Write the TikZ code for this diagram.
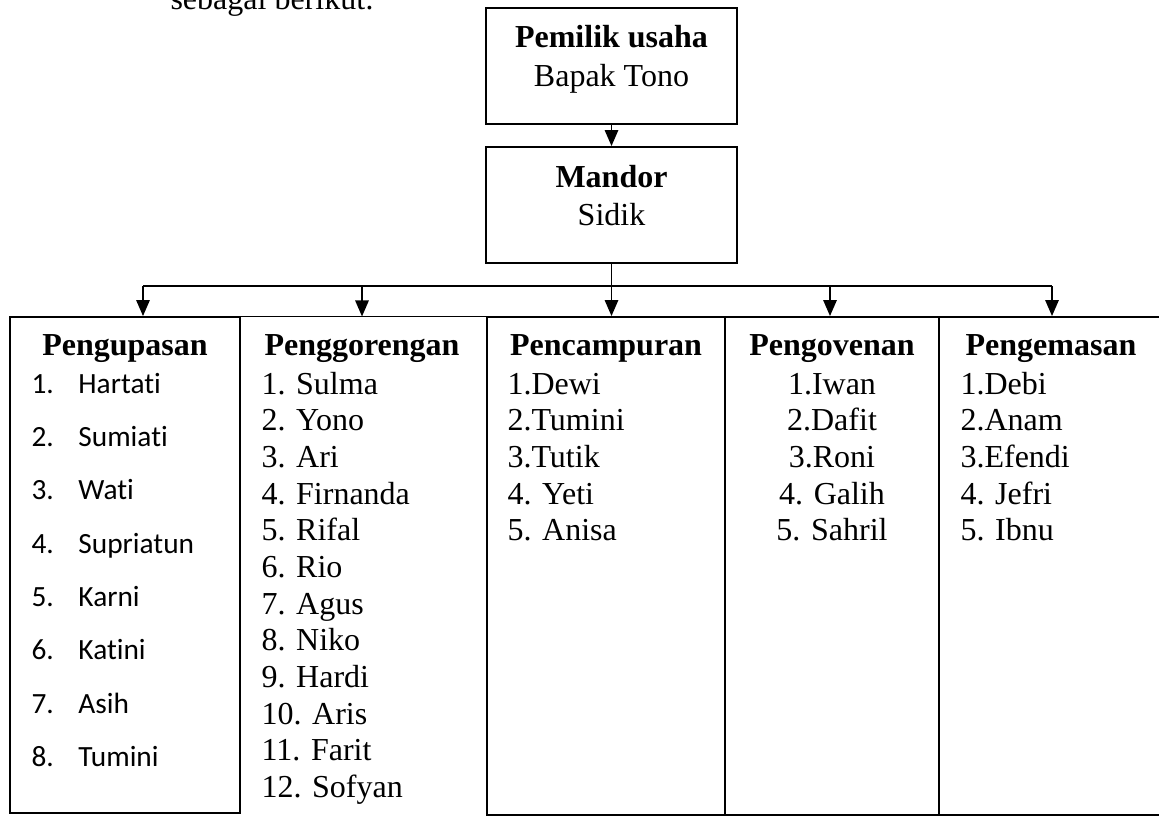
\documentclass[tikz,border=0pt]{standalone}
\usepackage{fontspec}
\setmainfont{Liberation Serif}
\newfontfamily\calibri[RawFeature={-liga;-dlig;-clig}]{Carlito}
\usetikzlibrary{arrows.meta}
\tikzset{
  kotak/.style={draw, line width=0.7pt, inner sep=0pt},
  garis/.style={line width=0.7pt},
  panah/.style={line width=0.7pt, -{Triangle[length=6pt, width=5pt]}},
  judul/.style={inner sep=0pt, anchor=base, font=\bfseries},
  teks/.style={inner sep=0pt, anchor=base},
  daftar/.style={inner sep=0pt, anchor=base west}
}
\begin{document}
\fontsize{12}{13.76}\selectfont
\begin{tikzpicture}[x=0.375pt, y=-0.375pt]
            \useasboundingbox (0,0) rectangle (1159,819);
            \node[daftar] (pengantar) at (170,9) {sebagai berikut:};
            % pimpinan
            \node[kotak, minimum width=94.1pt, minimum height=43.5pt] (pemilik) at (611.5,66) {};
            \node[judul] (tpemilik) at (611.5,47) {Pemilik usaha};
            \node[teks] (npemilik) at (611.5,86) {Bapak Tono};
            \node[kotak, minimum width=94.1pt, minimum height=43.5pt] (mandor) at (611.5,205) {};
            \node[judul] (tmandor) at (611.5,187) {Mandor};
            \node[teks] (nmandor) at (611.5,225) {Sidik};
            % bagian
            \node[kotak, minimum width=86.25pt, minimum height=186pt] (kupas) at (125,565) {};
            \node[inner sep=0pt, minimum width=92.6pt, minimum height=186.75pt] (goreng) at (363.5,566) {};
            \node[kotak, minimum width=89.25pt, minimum height=186.75pt] (campur) at (606,566) {};
            \node[kotak, minimum width=80.25pt, minimum height=186.75pt] (oven) at (832,566) {};
            \node[kotak, minimum width=83.25pt, minimum height=186.75pt] (kemas) at (1050,566) {};
            \draw[garis] (goreng.north west) -- (goreng.north east);
            % panah
            \coordinate (b1) at (143,286);
            \coordinate (b2) at (362,286);
            \coordinate (b4) at (830,286);
            \coordinate (b5) at (1052,286);
            \draw[panah] (pemilik) -- (mandor);
            \draw[panah] (mandor.south) -- (mandor.south |- campur.north);
            \draw[garis] (b1) -- (b5);
            \draw[panah] (b1) -- (b1 |- kupas.north);
            \draw[panah] (b2) -- (b2 |- goreng.north);
            \draw[panah] (b4) -- (b4 |- oven.north);
            \draw[panah] (b5) -- (b5 |- kemas.north);
            % judul bagian
            \node[judul] (tkupas) at (125,355) {Pengupasan};
            \node[judul] (tgoreng) at (362,355) {Penggorengan};
            \node[judul] (tcampur) at (606,355) {Pencampuran};
            \node[judul] (toven) at (832,355) {Pengovenan};
            \node[judul] (tkemas) at (1051,355) {Pengemasan};
            % daftar nama
            \node[daftar] (dkupas) at (31,393) {\calibri\fontsize{11}{20}\selectfont
              \begin{tabular}[t]{@{}p{17.6pt}@{}l@{}}
              1. & Hartati\\ 2. & Sumiati\\ 3. & Wati\\ 4. & Supriatun\\
              5. & Karni\\ 6. & Katini\\ 7. & Asih\\ 8. & Tumini
              \end{tabular}};
            \node[daftar] (dgoreng) at (261,394) {\begin{tabular}[t]{@{}l@{}}
              1. Sulma\\ 2. Yono\\ 3. Ari\\ 4. Firnanda\\ 5. Rifal\\ 6. Rio\\
              7. Agus\\ 8. Niko\\ 9. Hardi\\ 10. Aris\\ 11. Farit\\ 12. Sofyan
              \end{tabular}};
            \node[daftar] (dcampur) at (507,394) {\begin{tabular}[t]{@{}l@{}}
              1.Dewi\\ 2.Tumini\\ 3.Tutik\\ 4. Yeti\\ 5. Anisa
              \end{tabular}};
            \node[teks] (doven) at (832,394) {\begin{tabular}[t]{@{}c@{}}
              1.Iwan\\ 2.Dafit\\ 3.Roni\\ 4. Galih\\ 5. Sahril
              \end{tabular}};
            \node[daftar] (dkemas) at (960,394) {\begin{tabular}[t]{@{}l@{}}
              1.Debi\\ 2.Anam\\ 3.Efendi\\ 4. Jefri\\ 5. Ibnu
              \end{tabular}};
        \end{tikzpicture}
\end{document}
